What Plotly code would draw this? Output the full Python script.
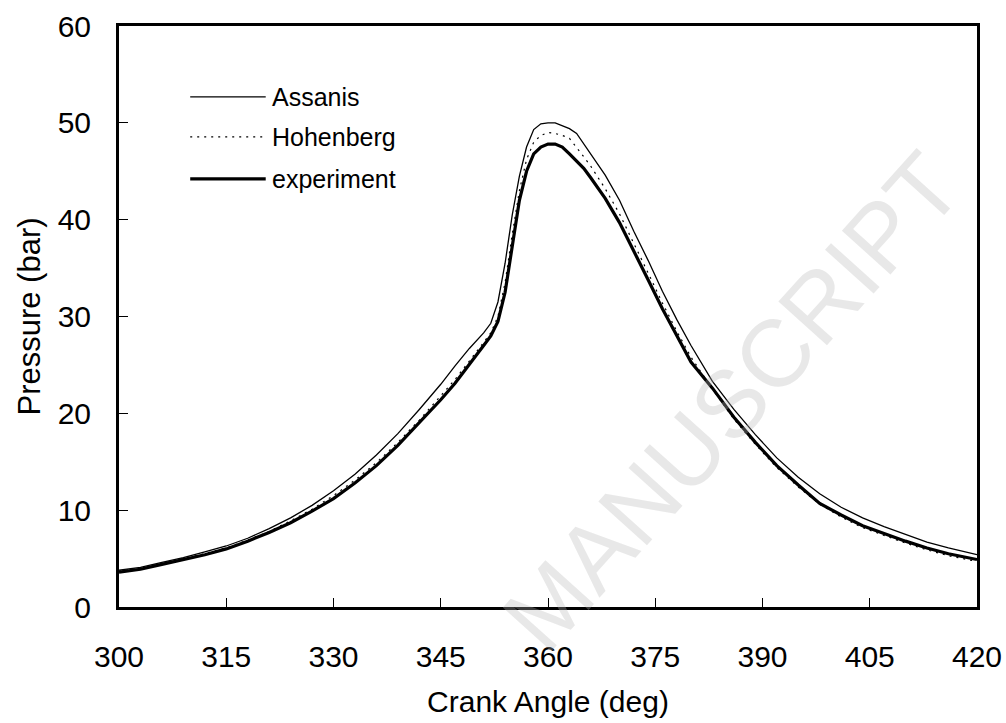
import plotly.graph_objects as go

crank_angle = [300, 303, 306, 309, 312, 315, 318, 321, 324, 327, 330, 333, 336, 339, 342,
               345, 347, 349, 351, 352, 353, 354, 355, 356, 357, 358, 359, 360, 361, 362,
               363, 364, 365, 366, 368, 370, 372, 374, 376, 378, 380, 383, 386, 389, 392,
               395, 398, 401, 404, 407, 410, 413, 416, 420]

assanis = [3.8, 4.1, 4.6, 5.1, 5.7, 6.3, 7.1, 8.1, 9.2, 10.5, 12.0, 13.7, 15.7, 17.9, 20.4,
           23.0, 24.9, 26.7, 28.3, 29.3, 31.5, 35.5, 40.5, 44.5, 47.5, 49.3, 49.9, 50.0, 50.0, 49.7,
           49.4, 48.9, 47.8, 46.8, 44.6, 42.0, 38.8, 35.8, 32.6, 29.7, 27.0, 23.3, 20.4, 17.8, 15.4,
           13.4, 11.7, 10.3, 9.2, 8.3, 7.5, 6.7, 6.1, 5.4]

hohenberg = [3.7, 4.0, 4.5, 5.0, 5.5, 6.1, 6.9, 7.8, 8.9, 10.1, 11.5, 13.1, 14.9, 17.0, 19.3,
             21.8, 23.5, 25.4, 27.3, 28.3, 30.0, 33.5, 38.5, 43.0, 46.2, 48.0, 48.7, 49.0, 48.9, 48.7,
             48.4, 47.5, 46.5, 45.5, 43.2, 40.6, 37.6, 34.5, 31.4, 28.5, 25.8, 22.5, 19.4, 16.8, 14.4,
             12.4, 10.6, 9.3, 8.2, 7.4, 6.6, 5.9, 5.3, 4.7]

experiment = [3.6, 3.9, 4.4, 4.9, 5.4, 6.0, 6.8, 7.7, 8.7, 9.9, 11.2, 12.8, 14.6, 16.7, 19.0,
              21.4, 23.1, 25.0, 27.0, 28.0, 29.5, 32.5, 37.5, 42.0, 45.0, 46.8, 47.5, 47.8, 47.8, 47.5,
              46.8, 46.0, 45.3, 44.3, 42.2, 39.7, 36.8, 33.8, 30.8, 28.0, 25.3, 22.6, 19.6, 17.0, 14.6,
              12.6, 10.7, 9.5, 8.4, 7.6, 6.8, 6.1, 5.5, 4.9]

series_names = ["Assanis", "Hohenberg", "experiment"]
x_ticks = [300, 315, 330, 345, 360, 375, 390, 405, 420]
y_ticks = [0, 10, 20, 30, 40, 50, 60]

FONT = "Liberation Sans, Arial, Helvetica, sans-serif"
styles = {
    "Assanis": dict(color="black", width=1.3, dash="solid"),
    "Hohenberg": dict(color="black", width=1.2, dash="2px,5px"),
    "experiment": dict(color="black", width=3.2, dash="solid"),
}

fig = go.Figure()
for name, vals in zip(series_names, [assanis, hohenberg, experiment]):
    fig.add_trace(go.Scatter(x=crank_angle, y=vals, mode="lines", name=name,
                             line=styles[name], showlegend=False))

# watermark
fig.add_annotation(text="MANUSCRIPT", xref="paper", yref="paper", x=0.715, y=0.354,
                   xanchor="center", yanchor="middle",
                   showarrow=False, textangle=-48,
                   font=dict(family=FONT, size=95, color="rgba(185,185,185,0.32)"))

# legend drawn with long line samples like the reference
leg_y = [0.878, 0.809, 0.737]
for name, ly in zip(series_names, leg_y):
    st = styles[name]
    fig.add_shape(type="line", xref="paper", yref="paper", x0=0.083, x1=0.171, y0=ly, y1=ly,
                  line=dict(color=st["color"], width=st["width"], dash=st["dash"]))
    fig.add_annotation(text=name, xref="paper", yref="paper", x=0.176, y=ly,
                       xanchor="left", yanchor="middle", showarrow=False,
                       font=dict(family=FONT, size=25, color="black"))

fig.update_xaxes(range=[300, 420], tickvals=x_ticks, ticks="inside", ticklen=9, tickwidth=1,
                 tickcolor="black", showline=True, linewidth=3, linecolor="black", mirror=True,
                 showgrid=False, zeroline=False, ticklabelstandoff=21, automargin=False,
                 tickfont=dict(family=FONT, size=30, color="black"),
                 title=dict(text="Crank Angle (deg)", font=dict(family=FONT, size=30, color="black"),
                            standoff=19))
fig.update_yaxes(range=[0, 60], tickvals=y_ticks, ticks="inside", ticklen=9, tickwidth=1,
                 tickcolor="black", showline=True, linewidth=3, linecolor="black", mirror=True,
                 showgrid=False, zeroline=False, ticklabelstandoff=19, automargin=False,
                 tickfont=dict(family=FONT, size=30, color="black"),
                 title=dict(text="Pressure (bar)", font=dict(family=FONT, size=31, color="black"),
                            standoff=8))

fig.update_layout(width=1006, height=723, margin=dict(l=119, r=29, t=26, b=116),
                  paper_bgcolor="white", plot_bgcolor="white", showlegend=False)

# remove the page's default 8px body margin so the figure fills the window exactly
fig.write_html("out.html", config={"displayModeBar": False},
               post_script="document.body.style.margin='0px';")
